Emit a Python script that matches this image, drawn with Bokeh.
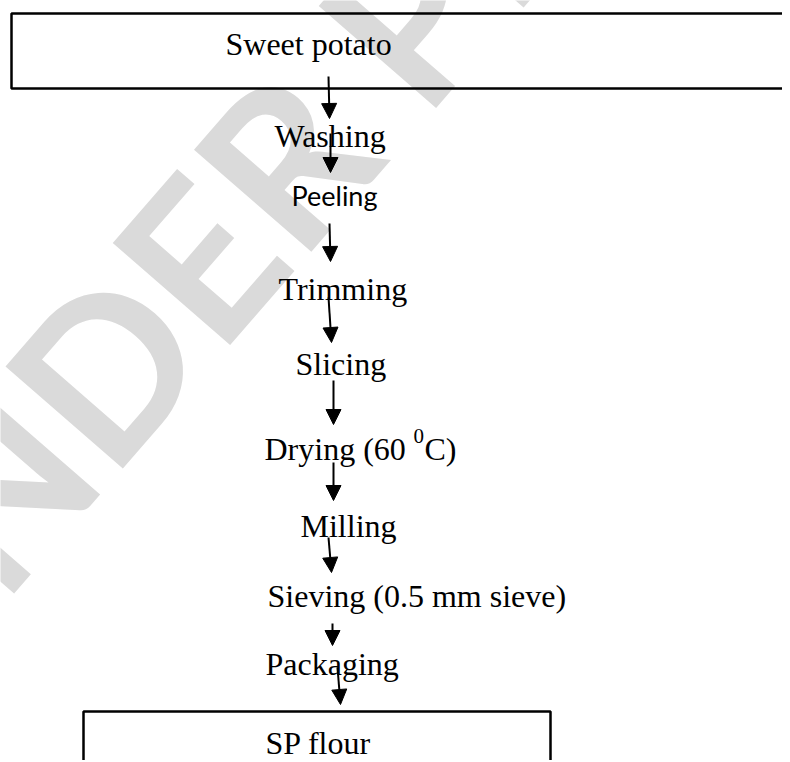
import math
from bokeh.plotting import figure
from bokeh.models import Range1d, Arrow, NormalHead
from bokeh.core.properties import value
from bokeh.embed import file_html
from bokeh.resources import INLINE

# ---- content ----
steps = ["Washing", "Peeling", "Trimming", "Slicing", "Milling",
         "Sieving (0.5 mm sieve)", "Packaging"]
start_label = "Sweet potato"
end_label = "SP flour"
drying_parts = ["Drying (60", "0", "C)"]
watermark = "UNDER PEER REVIEW"

# ---- layout (page pixel coordinates, y downwards) ----
step_x = [274, 291, 278, 295, 300, 267, 265]
step_y = [145, 205, 298, 373, 535, 605, 673]
step_font = ["serif", "sans", "serif", "serif", "serif", "serif", "serif"]

arrows_x0 = [328, 330, 329, 328, 333, 333, 328, 332, 337]
arrows_y0 = [76, 133, 223, 297, 380, 462, 537, 623, 667]
arrows_x1 = [329, 330, 330, 331, 333, 333, 331, 332, 340]
arrows_y1 = [118, 172, 261, 342, 424, 500, 572, 645, 704]

TXT_DY = -10  # baseline correction for svg text placement

W, H = 782, 760
p = figure(width=W, height=H, output_backend="svg", toolbar_location=None,
           x_range=Range1d(0, W), y_range=Range1d(H, 0),
           min_border=0)
p.axis.visible = False
p.grid.visible = False
p.outline_line_color = None
p.background_fill_color = "white"
p.border_fill_color = "white"

SERIF = value("Liberation Serif")
SANS = value("Lato")

# watermark
p.text(x=[-165], y=[672], text=[watermark], angle=math.radians(49),
       text_font=value("Lato"), text_font_size="215px", text_font_style="bold",
       text_color="#dadada", text_align="left", text_baseline="alphabetic")

# boxes
p.line(x=[900, 11, 11, 900], y=[13, 13, 88, 88], line_color="black", line_width=2.5)
p.line(x=[83, 83, 550, 550], y=[800, 711, 711, 800], line_color="black", line_width=2.5)

def serif_text(x, y, t, size="32px"):
    p.text(x=[x], y=[y + TXT_DY], text=[t], text_font=SERIF, text_font_size=size,
           text_color="black", text_baseline="alphabetic")

serif_text(225, 53, start_label)
serif_text(265, 752, end_label)

for lab, x, y, f in zip(steps, step_x, step_y, step_font):
    if f == "sans":
        p.text(x=[x], y=[y + TXT_DY], text=[lab], text_font=SANS, text_font_size="27px",
               text_color="black", text_baseline="alphabetic")
    else:
        serif_text(x, y, lab)

serif_text(264, 458, drying_parts[0])
serif_text(413, 445, drying_parts[1], size="21px")
serif_text(424, 458, drying_parts[2])

for x0, y0, x1, y1 in zip(arrows_x0, arrows_y0, arrows_x1, arrows_y1):
    p.add_layout(Arrow(end=NormalHead(size=15, fill_color="black", line_color="black"),
                       x_start=x0, y_start=y0, x_end=x1, y_end=y1,
                       line_color="black", line_width=2))

open("out.html", "w").write(file_html(p, INLINE))
